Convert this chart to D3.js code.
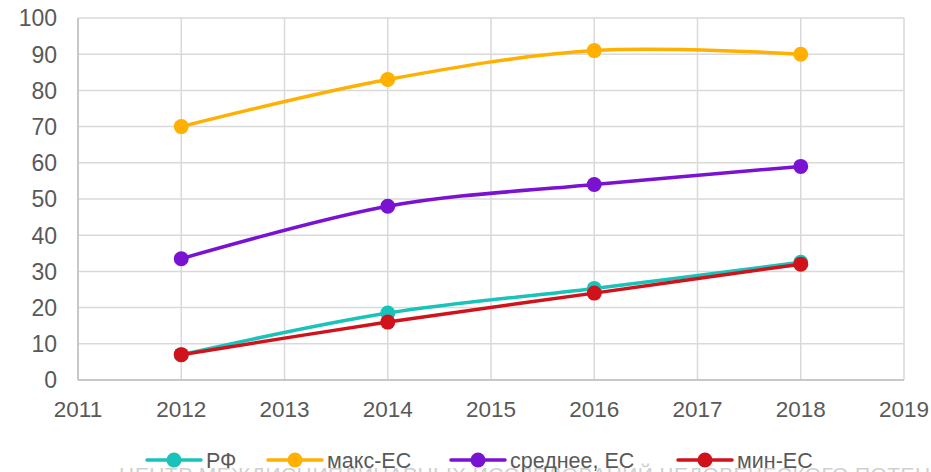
<!DOCTYPE html>
<html>
<head>
<meta charset="utf-8">
<script src="https://cdn.jsdelivr.net/npm/d3@7"></script>
<style>
  body { margin: 0; background: #fff; overflow: hidden; }
  text { font-family: "Liberation Sans", Arial, sans-serif; }
</style>
</head>
<body>
<div id="chart"></div>
<script>
// data
const years = [2012, 2014, 2016, 2018];
const rf = [7, 18.5, 25.3, 32.5];
const maxEU = [70, 83, 91, 90];
const avgEU = [33.5, 48, 54, 59];
const minEU = [7, 16, 24, 32];
const xTicks = [2011, 2012, 2013, 2014, 2015, 2016, 2017, 2018, 2019];
const yTicks = [0, 10, 20, 30, 40, 50, 60, 70, 80, 90, 100];

const series = [
  { name: "РФ", values: rf, color: "#19c3b9" },
  { name: "макс-ЕС", values: maxEU, color: "#ffb000" },
  { name: "среднее, ЕС", values: avgEU, color: "#7a12d2" },
  { name: "мин-ЕС", values: minEU, color: "#d2121b" }
];

const width = 931, height = 472;
const svg = d3.select("#chart").append("svg")
  .attr("width", width)
  .attr("height", height);

const x = d3.scaleLinear().domain([2011, 2019]).range([78, 904]);
const y = d3.scaleLinear().domain([0, 100]).range([380, 18]);

// grid
svg.append("g").selectAll("line").data(yTicks).join("line")
  .attr("x1", x(2011)).attr("x2", x(2019))
  .attr("y1", d => y(d)).attr("y2", d => y(d))
  .attr("stroke", "#d9d9d9").attr("stroke-width", 1.5);
svg.append("g").selectAll("line").data(xTicks).join("line")
  .attr("x1", d => x(d)).attr("x2", d => x(d))
  .attr("y1", y(0)).attr("y2", y(100))
  .attr("stroke", "#d9d9d9").attr("stroke-width", 1.5);

// axis lines
svg.append("line")
  .attr("x1", x(2011)).attr("x2", x(2011)).attr("y1", y(0)).attr("y2", y(100))
  .attr("stroke", "#bfbfbf").attr("stroke-width", 1.5);
svg.append("line")
  .attr("x1", x(2011)).attr("x2", x(2019)).attr("y1", y(0)).attr("y2", y(0))
  .attr("stroke", "#bfbfbf").attr("stroke-width", 1.5);

// tick labels
svg.append("g").selectAll("text").data(yTicks).join("text")
  .attr("x", 57).attr("y", d => y(d) + 8.3)
  .attr("text-anchor", "end")
  .attr("font-size", 23).attr("fill", "#595959")
  .text(d => d);
svg.append("g").selectAll("text").data(xTicks).join("text")
  .attr("x", d => x(d)).attr("y", 417)
  .attr("text-anchor", "middle")
  .attr("font-size", 22.5).attr("fill", "#595959")
  .text(d => d);

// lines + markers
const line = d3.line()
  .x((d, i) => x(years[i]))
  .y(d => y(d))
  .curve(d3.curveCardinal.tension(0));

series.forEach(s => {
  svg.append("path")
    .attr("d", line(s.values))
    .attr("fill", "none")
    .attr("stroke", s.color)
    .attr("stroke-width", 3.5);
  svg.append("g").selectAll("circle").data(s.values).join("circle")
    .attr("cx", (d, i) => x(years[i]))
    .attr("cy", d => y(d))
    .attr("r", 7.5)
    .attr("fill", s.color);
});

// watermark, cut at the bottom
svg.append("text")
  .attr("x", 119).attr("y", 482)
  .attr("font-size", 21).attr("fill", "#d0d0d0")
  .attr("letter-spacing", 0.4)
  .text("ЦЕНТР МЕЖДИСЦИПЛИНАРНЫХ ИССЛЕДОВАНИЙ ЧЕЛОВЕЧЕСКОГО ПОТЕНЦИАЛА");

// legend
const legendX = [147, 268, 451, 678];
const legend = svg.append("g");
series.forEach((s, i) => {
  const g = legend.append("g").attr("transform", `translate(${legendX[i]},460)`);
  g.append("line").attr("x1", 0).attr("x2", 54)
    .attr("stroke", s.color).attr("stroke-width", 3.5)
    .attr("stroke-linecap", "round");
  g.append("circle").attr("cx", 27).attr("r", 7.5).attr("fill", s.color);
  g.append("text").attr("x", 59).attr("y", 8)
    .attr("font-size", 21.5).attr("fill", "#595959")
    .text(s.name);
});
</script>
</body>
</html>
